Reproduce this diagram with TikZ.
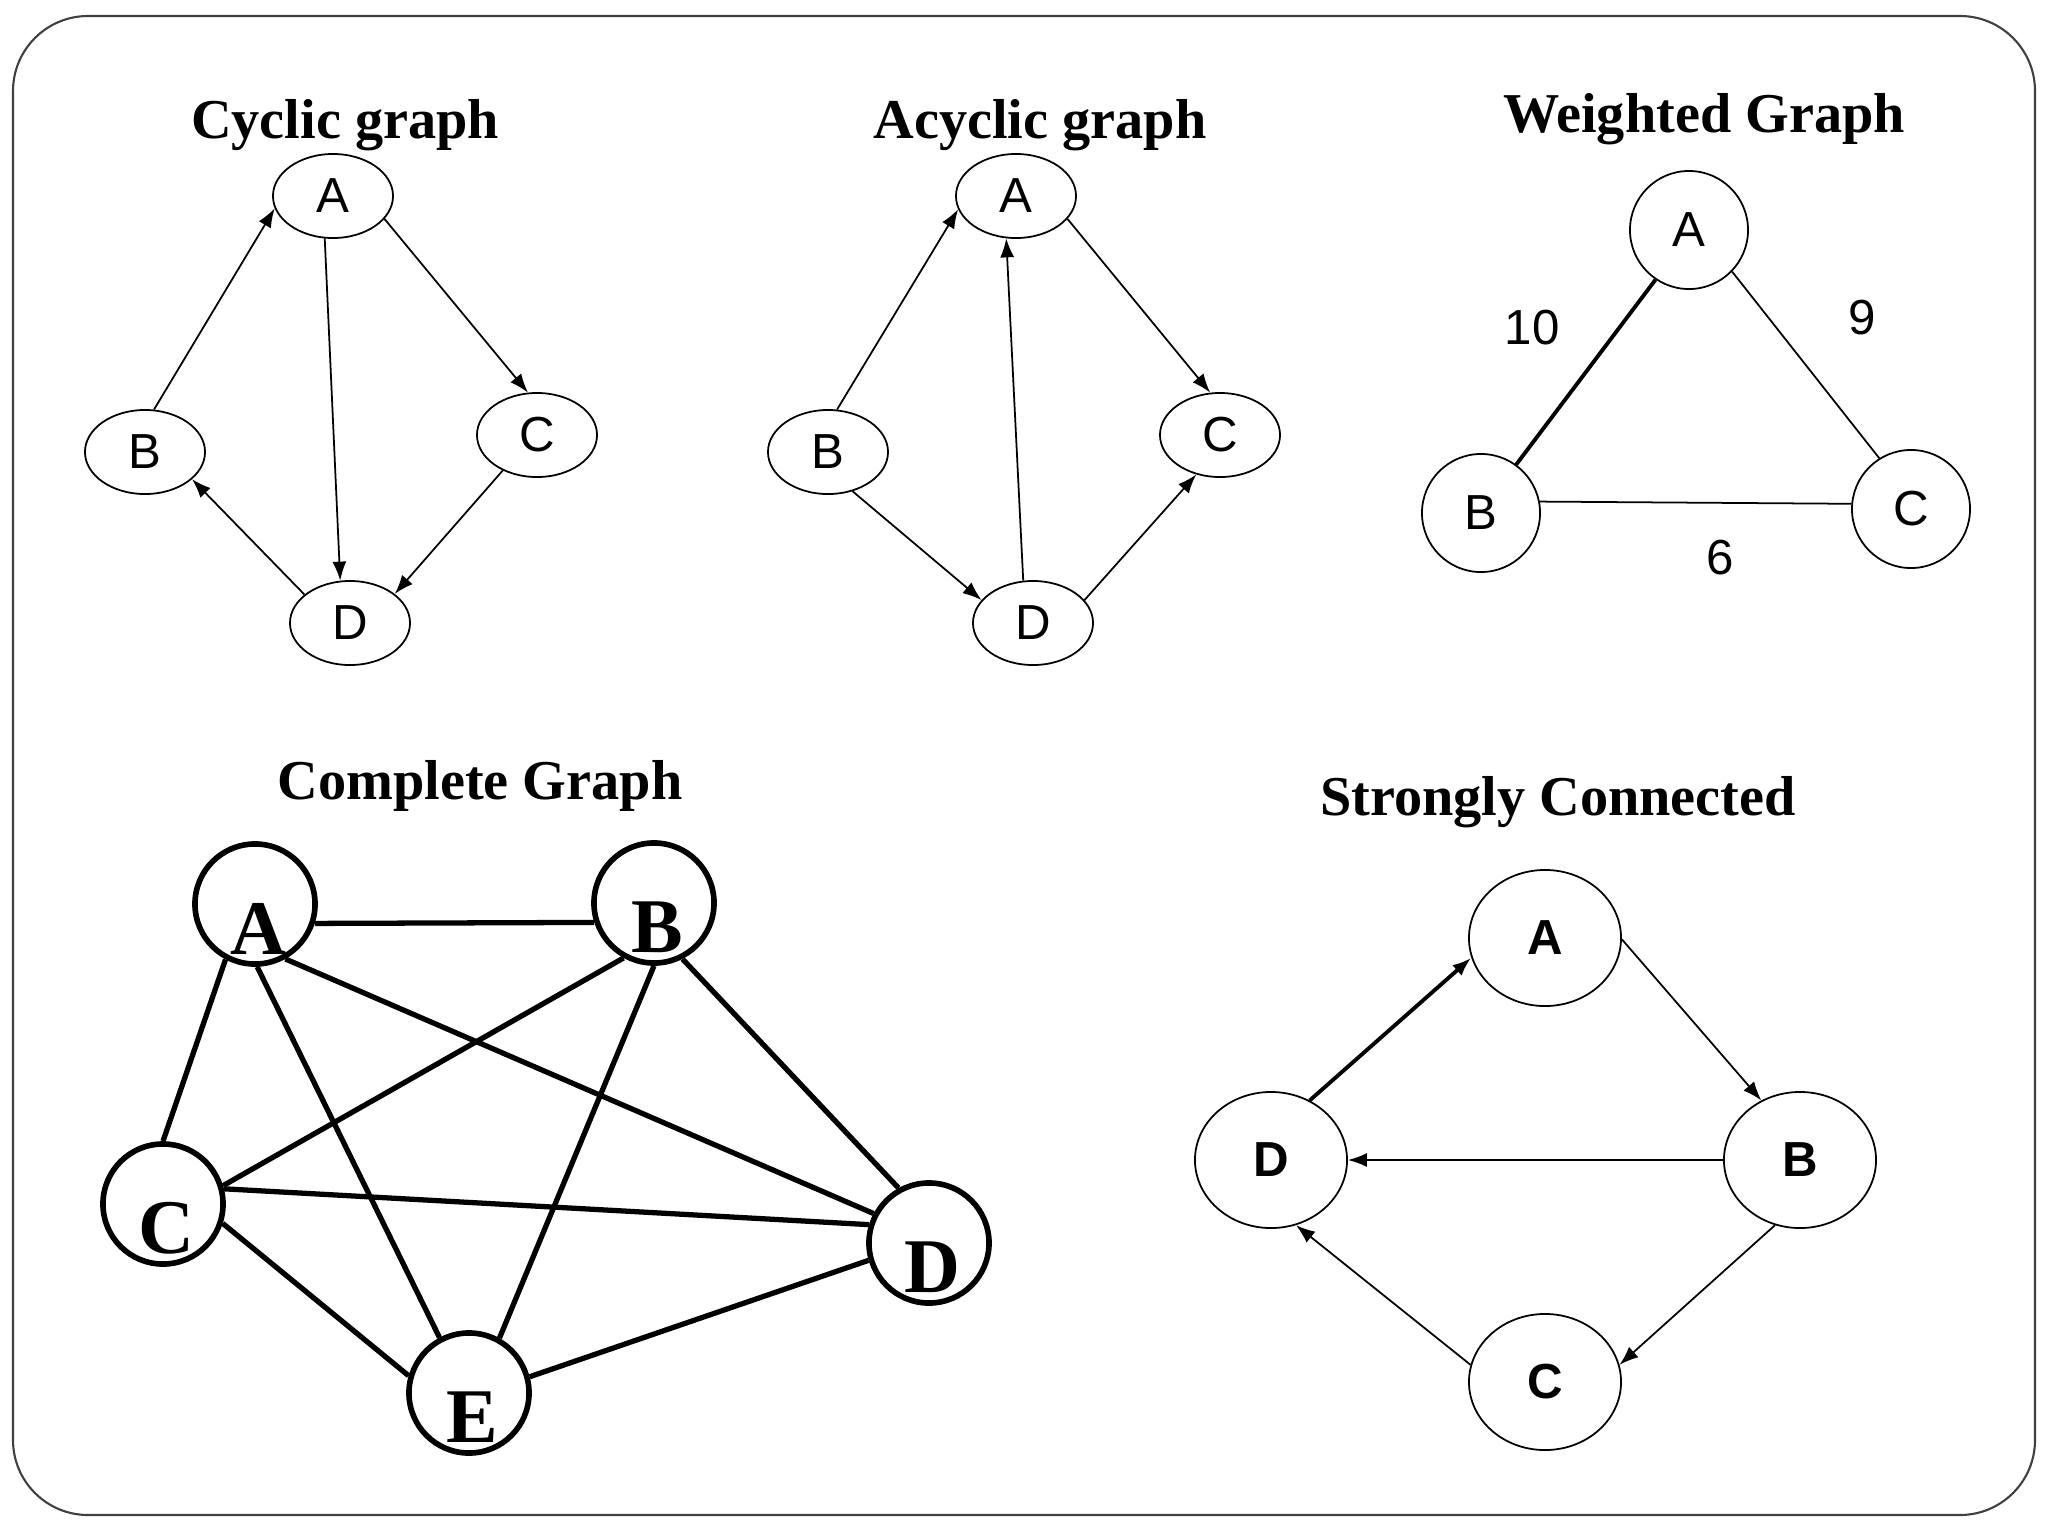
\documentclass[tikz,border=0pt]{standalone}
\usepackage{fontspec}
\setmainfont{Liberation Serif}
\setsansfont{Liberation Sans}
\usetikzlibrary{arrows.meta,shapes.geometric}

\begin{document}
\begin{tikzpicture}[x=0.01cm,y=-0.01cm,
  title/.style={font=\fontsize{16}{19}\selectfont\bfseries,anchor=base},
  vert/.style={draw,ellipse,line width=0.5pt,minimum width=1.2cm,minimum height=0.84cm,inner sep=0pt,font=\sffamily\fontsize{14}{16}\selectfont},
  wvert/.style={draw,circle,line width=0.5pt,minimum size=1.18cm,inner sep=0pt,font=\sffamily\fontsize{14}{16}\selectfont},
  wlabel/.style={font=\sffamily\fontsize{14}{16}\selectfont},
  cvert/.style={draw,circle,line width=1.6pt,minimum size=1.2cm,inner sep=0pt},
  cletter/.style={font=\fontsize{22}{26}\selectfont\bfseries,yshift=-0.245cm,xshift=0.03cm},
  svert/.style={draw,ellipse,line width=0.5pt,minimum width=1.52cm,minimum height=1.36cm,inner sep=0pt,font=\sffamily\bfseries\fontsize{14}{16}\selectfont},
  arc/.style={-{Latex[length=1.9mm,width=1.4mm]},line width=0.5pt},
  link/.style={line width=1.5pt}]
\useasboundingbox (0,0) rectangle (2048,1536);
\draw[rounded corners=0.75cm,line width=0.6pt,black!75] (13,16) rectangle (2035,1515);

% cyclic graph
\node[title] (cyc) at (345,138) {Cyclic graph};
\node[vert] (cA) at (333,196) {A};
\node[vert] (cB) at (145,452) {B};
\node[vert] (cC) at (537,435) {C};
\node[vert] (cD) at (350,623) {D};
\draw[arc] (cB.78) -- (cA.192);
\draw[arc] (cA.259) -- (cD.103);
\draw[arc] (cA.-24) -- (cC.102);
\draw[arc] (cC.226) -- (cD.33);
\draw[arc] (cD.148) -- (cB.-30);

% acyclic graph
\node[title] (acyc) at (1040,138) {Acyclic graph};
\node[vert] (aA) at (1016,196) {A};
\node[vert] (aB) at (828,452) {B};
\node[vert] (aC) at (1220,435) {C};
\node[vert] (aD) at (1033,623) {D};
\draw[arc] (aB.78) -- (aA.193);
\draw[arc] (aD.103) -- (aA.257);
\draw[arc] (aA.-24) -- (aC.103);
\draw[arc] (aB.-58) -- (aD.156);
\draw[arc] (aD.24) -- (aC.239);

% weighted graph
\node[title] (wgt) at (1704,132) {Weighted Graph};
\node[wvert] (wA) at (1689,230) {A};
\node[wvert] (wB) at (1481,513) {B};
\node[wvert] (wC) at (1911,509) {C};
\draw[line width=1.1pt] (wA.236) -- (wB.54);
\draw[line width=0.5pt] (wA.-44) -- (wC.122);
\draw[line width=0.5pt] (wB.11) -- (wC.175);
\node[wlabel] (w10) at (1532,328) {10};
\node[wlabel] (w9) at (1862,318) {9};
\node[wlabel] (w6) at (1720,558) {6};

% complete graph
\node[title] (cpl) at (480,799) {Complete Graph};
\node[cvert,label={[cletter]center:A}] (kA) at (255,904) {};
\node[cvert,label={[cletter]center:B}] (kB) at (654,903) {};
\node[cvert,label={[cletter]center:C}] (kC) at (163,1204) {};
\node[cvert,label={[cletter]center:D}] (kD) at (929,1243) {};
\node[cvert,label={[cletter]center:E}] (kE) at (469,1393) {};
\draw[link] (kA.-18) -- (kB.198);
\draw[link] (kA.-118) -- (kC.90);
\draw[link] (kA.-88) -- (kE.118);
\draw[link] (kA.-61) -- (kD.152);
\draw[link] (kB.-119) -- (kC.17);
\draw[link] (kB.-90) -- (kE.61);
\draw[link] (kB.-63) -- (kD.119);
\draw[link] (kC.14) -- (kD.163);
\draw[link] (kC.-18) -- (kE.164);
\draw[link] (kE.15) -- (kD.196);

% strongly connected
\node[title] (str) at (1558,815) {Strongly Connected};
\node[svert] (sA) at (1545,938) {A};
\node[svert] (sB) at (1800,1160) {B};
\node[svert] (sC) at (1545,1382) {C};
\node[svert] (sD) at (1271,1160) {D};
\draw[arc,line width=1.1pt] (sD.57) -- (sA.195);
\draw[arc] (sA.-1) -- (sB.123);
\draw[arc] (sB) -- (sD);
\draw[arc] (sB.249) -- (sC.13);
\draw[arc] (sC.167) -- (sD.-69);
\end{tikzpicture}
\end{document}
